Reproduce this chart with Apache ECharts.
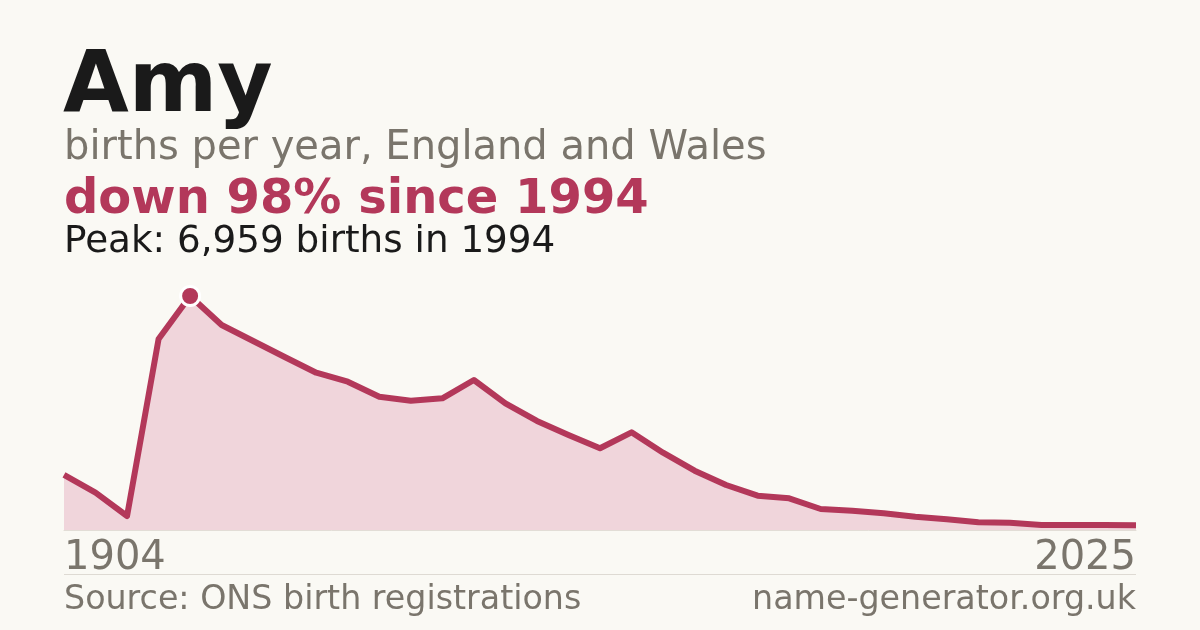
<!DOCTYPE html>
<html>
<head>
<meta charset="utf-8">
<script src="https://cdn.jsdelivr.net/npm/echarts@6/dist/echarts.min.js"></script>
<style>
  html, body { margin: 0; padding: 0; background: #faf9f4; }
  #chart { width: 1200px; height: 630px; }
</style>
</head>
<body>
<div id="chart"></div>
<script>
// years on the x axis (only first and last are labelled)
var years = ['1904', '1991', '1992', '1993', '1994', '1995', '1996', '1997', '1998', '1999',
  '2000', '2001', '2002', '2003', '2004', '2005', '2006', '2007', '2008', '2009',
  '2010', '2011', '2012', '2013', '2014', '2015', '2016', '2017', '2018', '2019',
  '2020', '2021', '2022', '2023', '2025'];
// births per year
var births = [1636, 1109, 416, 5680, 6959, 6097, 5621, 5145, 4678, 4411,
  3965, 3846, 3917, 4461, 3768, 3242, 2825, 2430, 2905, 2299,
  1764, 1338, 1020, 943, 625, 574, 497, 396, 318, 229,
  217, 149, 149, 149, 139];

var titleText = 'Amy';
var subText = 'births per year, England and Wales';
var changeText = 'down 98% since 1994';
var peakText = 'Peak: 6,959 births in 1994';
var sourceText = 'Source: ONS birth registrations';
var siteText = 'name-generator.org.uk';

var red = '#b3385a';
var grey = '#7a756c';
var font = '"DejaVu Sans", sans-serif';

var peakVal = Math.max.apply(null, births);
var peakIdx = births.indexOf(peakVal);
var last = years.length - 1;

var chart = echarts.init(document.getElementById('chart'), null, { renderer: 'canvas' });

chart.setOption({
  backgroundColor: '#faf9f4',
  animation: false,
  grid: { left: 64, right: 64, top: 296, bottom: 100 },
  xAxis: {
    type: 'category',
    data: years,
    boundaryGap: false,
    axisLine: { show: true, lineStyle: { color: '#e2ddd6', width: 1 } },
    axisTick: { show: false },
    axisLabel: {
      interval: function (i) { return i === 0 || i === last; },
      alignMinLabel: 'left',
      alignMaxLabel: 'right',
      color: grey,
      fontFamily: font,
      fontSize: 40,
      margin: 9
    }
  },
  yAxis: {
    type: 'value',
    min: 0,
    max: peakVal,
    show: false,
    splitLine: { show: false }
  },
  series: [{
    type: 'line',
    data: births,
    showSymbol: false,
    lineStyle: { color: red, width: 6, join: 'round' },
    areaStyle: { color: '#f0d5db', opacity: 1 },
    markPoint: {
      symbol: 'circle',
      symbolSize: 19,
      itemStyle: { color: red, borderColor: '#ffffff', borderWidth: 3 },
      label: { show: false },
      data: [{ coord: [years[peakIdx], peakVal] }]
    }
  }],
  graphic: [
    { type: 'text', left: 63, top: 46, style: { text: titleText, fill: '#1a1a1a', font: 'bold 85px ' + font } },
    { type: 'text', left: 64, top: 129, style: { text: subText, fill: grey, font: '40px ' + font } },
    { type: 'text', left: 64, top: 177, style: { text: changeText, fill: red, font: 'bold 48px ' + font } },
    { type: 'text', left: 64, top: 224, style: { text: peakText, fill: '#1a1a1a', font: '37.3px ' + font } },
    { type: 'rect', shape: { x: 64, y: 574, width: 1072, height: 1 }, style: { fill: '#dedad3' } },
    { type: 'text', left: 64, top: 584, style: { text: sourceText, fill: grey, font: '33.3px ' + font } },
    { type: 'text', right: 64, top: 584, style: { text: siteText, fill: grey, font: '33.3px ' + font } }
  ]
});
</script>
</body>
</html>
